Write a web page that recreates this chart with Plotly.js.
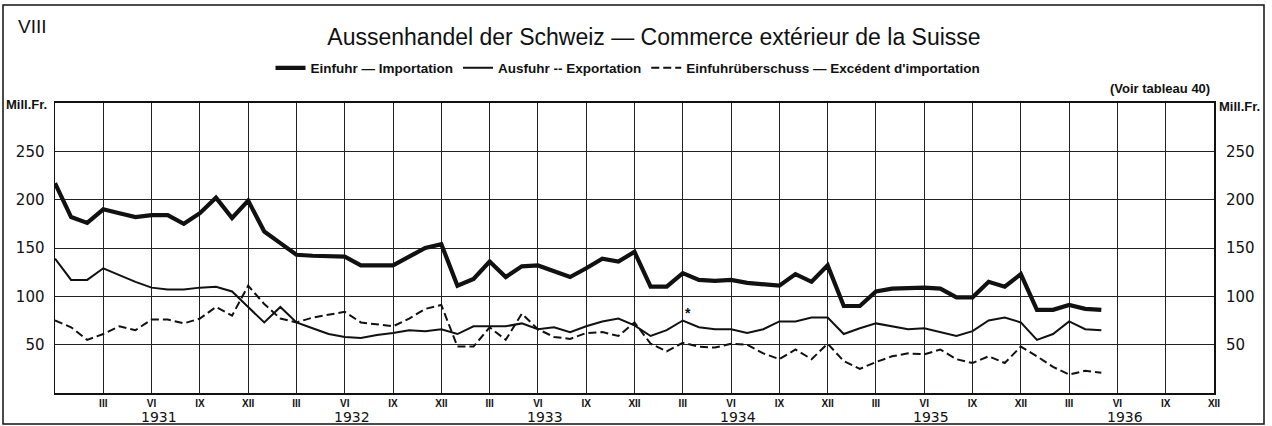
<!DOCTYPE html>
<html>
<head>
<meta charset="utf-8">
<script src="https://cdn.plot.ly/plotly-3.0.1.min.js"></script>
<style>html,body{margin:0;padding:0;background:#fff;}#chart{width:1272px;height:426px;}</style>
</head>
<body>
<div id="chart"></div>
<script>
// Month index 0 = left edge (Dec 1930) ... 65 = May 1936
const months = Array.from({length: 66}, (_, i) => i);

const einfuhr = [217,182,176,190,186,182,184,184,175,186,202,181,199,167,155,143,142,141,141,132,
  132,132,141,150,154,111,118,136,120,131,132,126,120,129,139,136,146,110,110,124,
  117,116,117,114,112,111,123,115,132,90,90,105,108,109,109,108,99,99,115,110,
  123,86,86,91,87,86];

const ausfuhr = [139,117,117,129,122,115,109,107,107,109,110,105,89,73,89,73,67,61,58,57,
  60,62,65,64,66,61,69,69,69,72,66,68,63,69,74,77,70,59,65,75,
  68,66,66,62,66,74,74,78,78,61,67,72,69,66,67,63,59,64,75,78,
  73,55,61,74,66,65];

const ueberschuss = [75,68,55,61,69,65,76,76,72,77,89,80,111,92,77,73,78,81,84,73,
  71,69,77,87,91,48,48,68,55,82,66,58,56,62,63,59,73,51,43,52,
  48,47,51,50,41,35,45,35,51,33,25,32,38,41,40,45,35,31,38,31,
  48,38,27,19,23,21];

const quarterTicks = [3,6,9,12,15,18,21,24,27,30,33,36,39,42,45,48,51,54,57,60,63,66,69,72];
const quarterLabels = ['III','VI','IX','XII','III','VI','IX','XII','III','VI','IX','XII',
  'III','VI','IX','XII','III','VI','IX','XII','III','VI','IX','XII'];
const years = ['1931','1932','1933','1934','1935','1936'];
const yearPos = [6.45,18.45,30.45,42.45,54.45,66.45];
const yTicks = [50,100,150,200,250];

const seriesNames = ['Einfuhr — Importation','Ausfuhr -- Exportation','Einfuhrüberschuss — Excédent d\'importation'];

const traces = [
  {x: months, y: einfuhr, type:'scatter', mode:'lines', name: seriesNames[0],
   line:{color:'#111', width:4.2}, hoverinfo:'x+y'},
  {x: months, y: ausfuhr, type:'scatter', mode:'lines', name: seriesNames[1],
   line:{color:'#111', width:2}, hoverinfo:'x+y'},
  {x: months, y: ueberschuss, type:'scatter', mode:'lines', name: seriesNames[2],
   line:{color:'#111', width:2, dash:'8px,4px'}, yaxis:'y2', hoverinfo:'x+y'}
];

const L = 55, R = 1214, T = 103, B = 393, W = 1272, H = 426;
const px2x = p => (p - L) / (R - L);
const px2y = p => (B - p) / (B - T);

const baseFont = {family:'Liberation Sans, Arial, sans-serif', color:'#111'};
const narrowBold = {...baseFont, family:'Liberation Sans Narrow, Liberation Sans, sans-serif', weight:'bold'};

const annotations = [];
years.forEach((yr, k) => annotations.push({
  x: yearPos[k], xref:'x', y: px2y(417), yref:'paper', text: yr, showarrow:false,
  xanchor:'center', yanchor:'middle', font:{...baseFont, family:'DejaVu Sans, sans-serif', size:14}
}));
annotations.push({x: px2x(32), xref:'paper', y: px2y(26), yref:'paper', text:'VIII', showarrow:false,
  xanchor:'center', yanchor:'middle', font:{...baseFont, size:19}});
annotations.push({x: px2x(26), xref:'paper', y: px2y(104), yref:'paper', text:'Mill.Fr.', showarrow:false,
  xanchor:'center', yanchor:'middle', font:{...narrowBold, size:13}});
annotations.push({x: px2x(1239), xref:'paper', y: px2y(106), yref:'paper', text:'Mill.Fr.', showarrow:false,
  xanchor:'center', yanchor:'middle', font:{...narrowBold, size:13}});
annotations.push({x: px2x(1212), xref:'paper', y: px2y(88), yref:'paper', text:'(Voir tableau 40)', showarrow:false,
  xanchor:'right', yanchor:'middle', font:{...baseFont, size:13, weight:'bold'}});
annotations.push({x: 39.3, xref:'x', y: 83, yref:'y', text:'*', showarrow:false,
  xanchor:'center', yanchor:'middle', font:{...baseFont, size:14, weight:'bold'}});

const axisCommon = {
  showline:true, linecolor:'#111', mirror:true,
  gridcolor:'#222', gridwidth:1, zeroline:false, fixedrange:true
};

const layout = {
  width: W, height: H,
  margin: {l: L, r: W - R, t: T, b: H - B, pad: 0},
  paper_bgcolor:'#fff', plot_bgcolor:'#fff',
  title: {text:'Aussenhandel der Schweiz — Commerce extérieur de la Suisse',
    x: px2x(654), xref:'paper', xanchor:'center', y: 1 - 37/H, yref:'container', yanchor:'middle',
    font:{...baseFont, size:23}},
  showlegend: true,
  legend: {orientation:'h', x: px2x(628), xanchor:'center', y: px2y(68), yanchor:'middle',
    font:{...baseFont, size:13.5, weight:'bold'}, bgcolor:'rgba(0,0,0,0)', traceorder:'normal',
    itemwidth:30},
  xaxis: {...axisCommon, linewidth:2, range:[0,72], tickmode:'array', tickvals: quarterTicks, ticktext: quarterLabels,
    showgrid:true, ticks:'', ticklen:0,
    tickfont:{...narrowBold, size:10}},
  yaxis: {...axisCommon, linewidth:1.5, range:[0,300], tickmode:'array', tickvals: yTicks, showgrid:true,
    ticks:'outside', ticklen:6, tickcolor:'rgba(0,0,0,0)',
    tickfont:{...baseFont, family:'DejaVu Sans, sans-serif', size:15}},
  yaxis2: {range:[0,300], overlaying:'y', side:'right', tickmode:'array', tickvals: yTicks,
    showgrid:false, zeroline:false, showline:false, fixedrange:true,
    ticks:'outside', ticklen:8, tickcolor:'rgba(0,0,0,0)',
    tickfont:{...baseFont, family:'DejaVu Sans, sans-serif', size:15}},
  annotations: annotations,
  shapes: [{type:'rect', xref:'paper', yref:'paper',
    x0: px2x(3), x1: px2x(1264), y0: px2y(424), y1: px2y(5),
    line:{color:'#111', width:1.5}, fillcolor:'rgba(0,0,0,0)', layer:'below'}]
};

Plotly.newPlot('chart', traces, layout, {displayModeBar:false, staticPlot:true});
</script>
</body>
</html>
